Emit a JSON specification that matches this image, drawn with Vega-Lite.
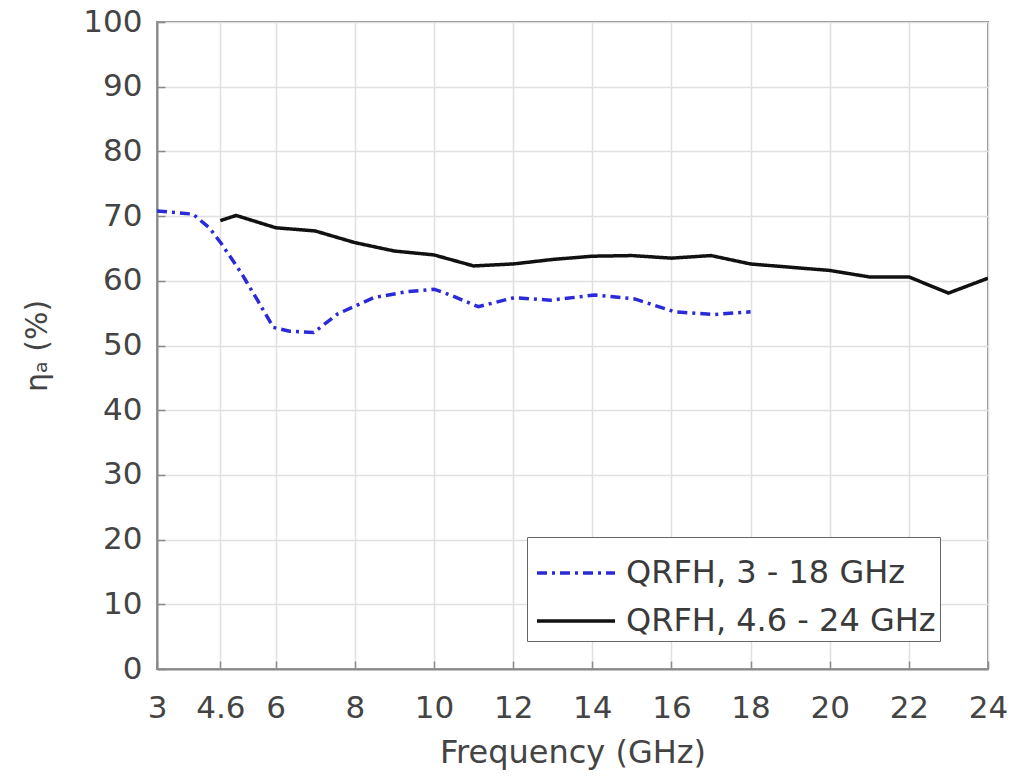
{
  "$schema": "https://vega.github.io/schema/vega-lite/v6.json",
  "autosize": "none",
  "width": 831,
  "height": 647,
  "padding": {"left": 157, "top": 22, "right": 26, "bottom": 113},
  "background": "white",
  "config": {
    "font": "DejaVu Sans",
    "view": {"stroke": "#8a8a8a", "strokeWidth": 2},
    "axis": {
      "labelFont": "DejaVu Sans",
      "titleFont": "DejaVu Sans",
      "labelColor": "#444444",
      "titleColor": "#444444",
      "labelFontSize": 31,
      "titleFontSize": 32,
      "titleFontWeight": "normal",
      "gridColor": "#e0e0e0",
      "gridWidth": 1.5,
      "domainColor": "#8a8a8a",
      "domainWidth": 2,
      "tickColor": "#8a8a8a",
      "tickSize": -8,
      "tickWidth": 1.5
    }
  },
  "data": {
    "values": [
      {"f": 3.0, "eta": 70.8, "s": "QRFH, 3 - 18 GHz"},
      {"f": 3.91, "eta": 70.3, "s": "QRFH, 3 - 18 GHz"},
      {"f": 4.32, "eta": 68.2, "s": "QRFH, 3 - 18 GHz"},
      {"f": 4.62, "eta": 65.8, "s": "QRFH, 3 - 18 GHz"},
      {"f": 5.13, "eta": 61.2, "s": "QRFH, 3 - 18 GHz"},
      {"f": 5.54, "eta": 57.0, "s": "QRFH, 3 - 18 GHz"},
      {"f": 5.94, "eta": 52.8, "s": "QRFH, 3 - 18 GHz"},
      {"f": 6.35, "eta": 52.2, "s": "QRFH, 3 - 18 GHz"},
      {"f": 6.96, "eta": 52.0, "s": "QRFH, 3 - 18 GHz"},
      {"f": 7.57, "eta": 54.9, "s": "QRFH, 3 - 18 GHz"},
      {"f": 8.48, "eta": 57.4, "s": "QRFH, 3 - 18 GHz"},
      {"f": 9.29, "eta": 58.3, "s": "QRFH, 3 - 18 GHz"},
      {"f": 10.0, "eta": 58.7, "s": "QRFH, 3 - 18 GHz"},
      {"f": 10.41, "eta": 57.8, "s": "QRFH, 3 - 18 GHz"},
      {"f": 11.12, "eta": 56.0, "s": "QRFH, 3 - 18 GHz"},
      {"f": 12.03, "eta": 57.4, "s": "QRFH, 3 - 18 GHz"},
      {"f": 12.94, "eta": 57.0, "s": "QRFH, 3 - 18 GHz"},
      {"f": 14.06, "eta": 57.8, "s": "QRFH, 3 - 18 GHz"},
      {"f": 15.07, "eta": 57.2, "s": "QRFH, 3 - 18 GHz"},
      {"f": 16.09, "eta": 55.2, "s": "QRFH, 3 - 18 GHz"},
      {"f": 17.1, "eta": 54.8, "s": "QRFH, 3 - 18 GHz"},
      {"f": 18.0, "eta": 55.2, "s": "QRFH, 3 - 18 GHz"},
      {"f": 4.6, "eta": 69.3, "s": "QRFH, 4.6 - 24 GHz"},
      {"f": 5.0, "eta": 70.1, "s": "QRFH, 4.6 - 24 GHz"},
      {"f": 6.0, "eta": 68.2, "s": "QRFH, 4.6 - 24 GHz"},
      {"f": 7.0, "eta": 67.7, "s": "QRFH, 4.6 - 24 GHz"},
      {"f": 8.0, "eta": 65.9, "s": "QRFH, 4.6 - 24 GHz"},
      {"f": 9.0, "eta": 64.6, "s": "QRFH, 4.6 - 24 GHz"},
      {"f": 10.0, "eta": 64.0, "s": "QRFH, 4.6 - 24 GHz"},
      {"f": 11.0, "eta": 62.3, "s": "QRFH, 4.6 - 24 GHz"},
      {"f": 12.0, "eta": 62.6, "s": "QRFH, 4.6 - 24 GHz"},
      {"f": 13.0, "eta": 63.3, "s": "QRFH, 4.6 - 24 GHz"},
      {"f": 14.0, "eta": 63.8, "s": "QRFH, 4.6 - 24 GHz"},
      {"f": 15.0, "eta": 63.9, "s": "QRFH, 4.6 - 24 GHz"},
      {"f": 16.0, "eta": 63.5, "s": "QRFH, 4.6 - 24 GHz"},
      {"f": 17.0, "eta": 63.9, "s": "QRFH, 4.6 - 24 GHz"},
      {"f": 18.0, "eta": 62.6, "s": "QRFH, 4.6 - 24 GHz"},
      {"f": 19.0, "eta": 62.1, "s": "QRFH, 4.6 - 24 GHz"},
      {"f": 20.0, "eta": 61.6, "s": "QRFH, 4.6 - 24 GHz"},
      {"f": 21.0, "eta": 60.6, "s": "QRFH, 4.6 - 24 GHz"},
      {"f": 22.0, "eta": 60.6, "s": "QRFH, 4.6 - 24 GHz"},
      {"f": 23.0, "eta": 58.1, "s": "QRFH, 4.6 - 24 GHz"},
      {"f": 24.0, "eta": 60.4, "s": "QRFH, 4.6 - 24 GHz"}
    ]
  },
  "mark": {"type": "line", "strokeWidth": 3.5, "clip": true},
  "encoding": {
    "x": {
      "field": "f",
      "type": "quantitative",
      "scale": {"domain": [3, 24], "nice": false, "zero": false},
      "axis": {
        "title": "Frequency (GHz)",
        "values": [3, 4.6, 6, 8, 10, 12, 14, 16, 18, 20, 22, 24],
        "labelExpr": "datum.value == 4.6 ? '4.6' : format(datum.value, 'd')",
        "labelPadding": 32,
        "titlePadding": 14,
        "labelFlush": false
      }
    },
    "y": {
      "field": "eta",
      "type": "quantitative",
      "scale": {"domain": [0, 100], "nice": false},
      "axis": {
        "title": "ηₐ (%)",
        "titleFontSize": 30,
        "values": [0, 10, 20, 30, 40, 50, 60, 70, 80, 90, 100],
        "labelPadding": 23,
        "titlePadding": 30,
        "labelFlush": false
      }
    },
    "color": {
      "field": "s",
      "type": "nominal",
      "scale": {"domain": ["QRFH, 3 - 18 GHz", "QRFH, 4.6 - 24 GHz"], "range": ["#2a2ad8", "#111111"]},
      "legend": {
        "title": null,
        "orient": "none",
        "legendX": 370,
        "legendY": 515,
        "symbolType": "M -1.3 0 H 1.3",
        "symbolSize": 3600,
        "symbolStrokeWidth": 3.5,
        "symbolOffset": 13,
        "labelFont": "DejaVu Sans",
        "labelFontSize": 32,
        "labelColor": "#3a3a3a",
        "labelLimit": 500,
        "labelOffset": 18,
        "rowPadding": -13,
        "padding": 4,
        "strokeColor": "#666666",
        "fillColor": "white"
      }
    },
    "strokeDash": {
      "field": "s",
      "type": "nominal",
      "scale": {"domain": ["QRFH, 3 - 18 GHz", "QRFH, 4.6 - 24 GHz"], "range": [[10, 5, 3, 5], [1, 0]]},
      "legend": {
        "title": null,
        "orient": "none",
        "legendX": 370,
        "legendY": 515,
        "symbolType": "M -1.3 0 H 1.3",
        "symbolSize": 3600,
        "symbolStrokeWidth": 3.5,
        "symbolOffset": 13,
        "labelFont": "DejaVu Sans",
        "labelFontSize": 32,
        "labelColor": "#3a3a3a",
        "labelLimit": 500,
        "labelOffset": 18,
        "rowPadding": -13,
        "padding": 4,
        "strokeColor": "#666666",
        "fillColor": "white"
      }
    }
  }
}
